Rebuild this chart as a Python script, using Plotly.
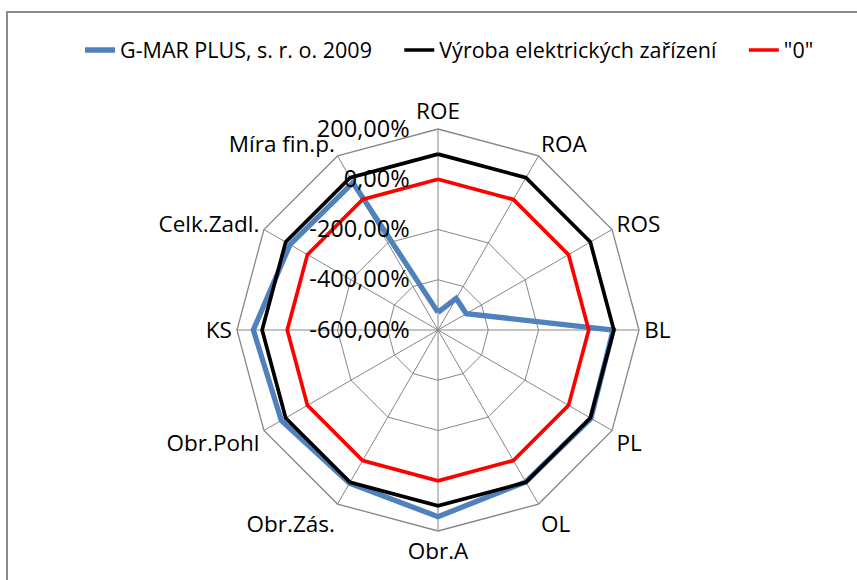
import plotly.graph_objects as go

categories = ["ROE", "ROA", "ROS", "BL", "PL", "OL", "Obr.A", "Obr.Zás.",
              "Obr.Pohl", "KS", "Celk.Zadl.", "Míra fin.p."]
gmar_2009 = [-530, -455, -470, 97, 103, 98, 143, 104, 120, 135, 80, 77]
odvetvi = [100, 100, 100, 100, 100, 100, 100, 100, 100, 100, 100, 100]
nula = [0, 0, 0, 0, 0, 0, 0, 0, 0, 0, 0, 0]
radial_ticks = [-600, -400, -200, 0, 200]
radial_ticktext = ["-600,00%", "-400,00%", "-200,00%", "0,00%", "200,00%"]
series_names = ["G-MAR PLUS, s. r. o. 2009", "Výroba elektrických zařízení", '"0"']

FONT = "'Open Sans', Lato, 'Liberation Sans', sans-serif"
NB = "\u00a0"

def closed(v):
    return list(v) + [v[0]]

fig = go.Figure()
fig.add_trace(go.Scatterpolar(r=closed(gmar_2009), theta=closed(categories), mode="lines",
                              name=series_names[0] + NB * 4,
                              line=dict(color="#4F81BD", width=5.3)))
fig.add_trace(go.Scatterpolar(r=closed(odvetvi), theta=closed(categories), mode="lines",
                              name=series_names[1] + NB * 4,
                              line=dict(color="#000000", width=3.7)))
fig.add_trace(go.Scatterpolar(r=closed(nula), theta=closed(categories), mode="lines",
                              name=series_names[2],
                              line=dict(color="#FF0000", width=3.7)))

fig.update_layout(
    width=857, height=580,
    margin=dict(l=0, r=0, t=0, b=0),
    paper_bgcolor="white",
    font=dict(family=FONT, size=22, color="black"),
    showlegend=True,
    legend=dict(orientation="h", x=80 / 857, xanchor="left", y=1 - 50 / 580, yanchor="middle",
                font=dict(size=21.5), tracegroupgap=0),
    polar=dict(
        domain=dict(x=[(438 - 201) / 857, (438 + 201) / 857],
                    y=[1 - 531 / 580, 1 - 129 / 580]),
        bgcolor="white",
        gridshape="linear",
        radialaxis=dict(range=[-600, 200], tickvals=radial_ticks,
                        ticktext=[t + NB * 4 for t in radial_ticktext],
                        angle=90, tickangle=90, side="counterclockwise",
                        showline=False, gridcolor="#868686", gridwidth=1.3,
                        ticks="", tickfont=dict(size=23.5)),
        angularaxis=dict(direction="clockwise", rotation=90,
                         showline=True, linecolor="#868686", linewidth=1.3,
                         gridcolor="#868686", gridwidth=1.3, ticks="",
                         tickfont=dict(size=22.5)),
    ),
    shapes=[dict(type="rect", xref="paper", yref="paper",
                 x0=7 / 857, x1=1.1, y0=-0.1, y1=1 - 12 / 580,
                 line=dict(color="#8C8C8C", width=2), fillcolor="rgba(0,0,0,0)",
                 layer="below")],
)

fig.write_html("out.html", config={"displayModeBar": False},
               post_script="document.body.style.margin='0';")
